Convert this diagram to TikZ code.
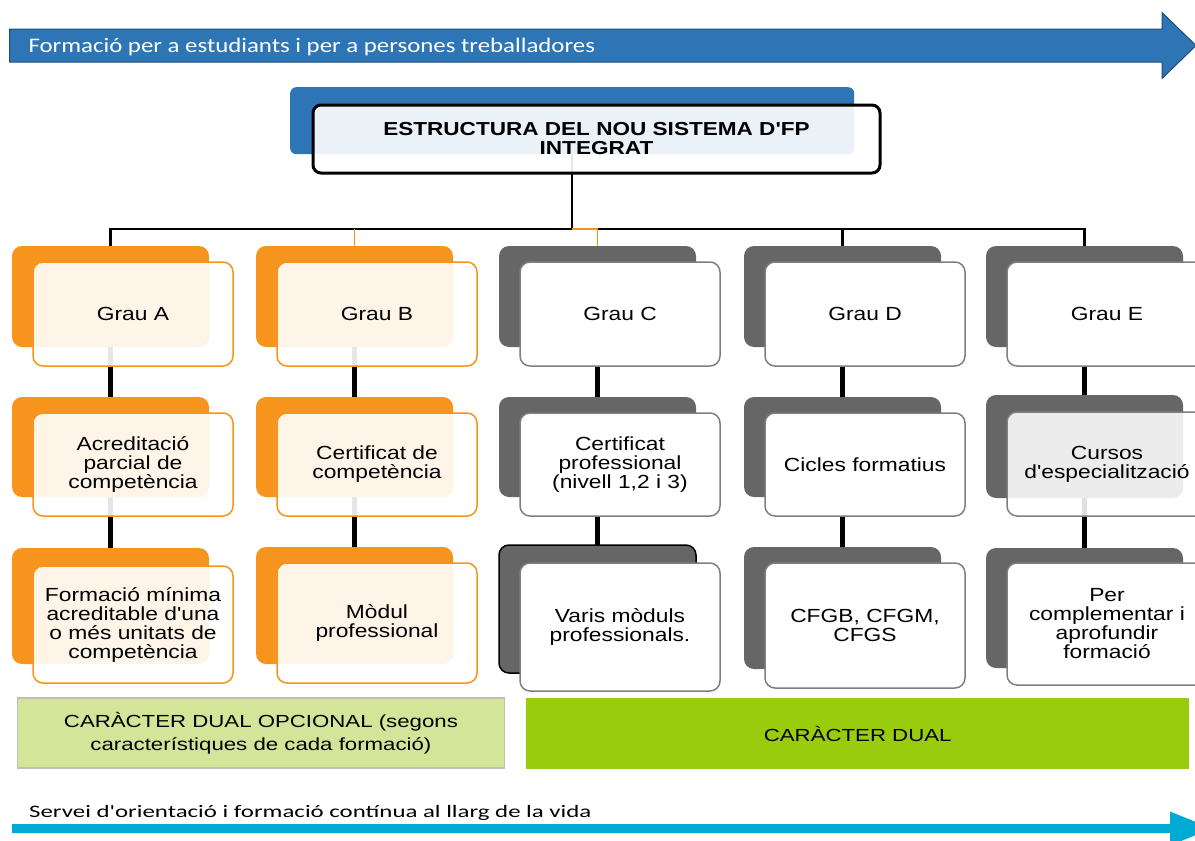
\documentclass[tikz,border=0pt]{standalone}
\usepackage{fontspec}
\setmainfont{Liberation Sans}
\newfontfamily\cardfont[FakeStretch=1.2]{Liberation Sans}
\newfontfamily\dualfont[FakeStretch=1.27]{Liberation Sans}
\newfontfamily\bandfont[FakeStretch=1.2]{Carlito}
\newfontfamily\bandnarrow[FakeStretch=1.42]{Carlito}

\definecolor{fpblue}{HTML}{2E75B6}
\definecolor{fpnavy}{HTML}{1F4E79}
\definecolor{fporange}{HTML}{F7941D}
\definecolor{fpgrey}{HTML}{666666}
\definecolor{fpedge}{HTML}{7F7F7F}
\definecolor{fppale}{HTML}{D3E598}
\definecolor{fpbord}{HTML}{BFBFBF}
\definecolor{fplime}{HTML}{9ACC0E}
\definecolor{fpcyan}{HTML}{00AAD3}

\pgfdeclarelayer{under}
\pgfsetlayers{under,main}

\tikzset{
  backbox/.style={anchor=north west, inner sep=0pt, outer sep=0pt,
    minimum width=197pt, rounded corners=10pt},
  orangeback/.style={backbox, fill=fporange},
  greyback/.style={backbox, fill=fpgrey},
  greybackedge/.style={backbox, fill=fpgrey, draw=black, line width=1.5pt},
  frontbox/.style={anchor=north west, inner sep=2pt, outer sep=0pt,
    minimum width=200pt, rounded corners=10pt, line width=1.5pt,
    align=center, text=black,
    font=\cardfont\fontsize{19}{19}\selectfont},
  orangefront/.style={frontbox, draw=fporange, fill=white,
    fill opacity=0.9, text opacity=1},
  greyfront/.style={frontbox, draw=fpedge, fill=white},
  greyfrontsoft/.style={frontbox, draw=fpedge, fill=white,
    fill opacity=0.88, text opacity=1},
  rowlink/.style={line width=5pt, black},
  trunk/.style={line width=2.5pt, black, line join=miter},
  stub/.style={line width=1.5pt, fporange, line join=miter},
}

% card: id, back style, front style, back x, back top, back bottom,
% front top, front bottom, text
\newcommand\fpcard[9]{%
  \node[#2, minimum height={#6pt-#5pt}] (b#1) at (#4,#5) {};
  \node[#3, minimum height={#8pt-#7pt}] (f#1) at ({#4+21},#7) {#9};
}

\begin{document}
\begin{tikzpicture}[x=1pt,y=-1pt]
\useasboundingbox (0,0) rectangle (1195,841);
\clip (0,0) rectangle (1195,841);

% top band arrow
\draw[fpnavy, fill=fpblue, line width=1pt]
  (9.5,29) -- (1162,29) -- (1162,12.5) -- (1196,45.5) -- (1162,78.5)
  -- (1162,62) -- (9.5,62) -- cycle;
\node[anchor=base west, inner sep=0pt, text=white,
  font=\bandfont\fontsize{20.7}{24}\selectfont] (bandtop) at (28.3,52.7)
  {Formació per a estudiants i per a persones treballadores};

% title
\node[anchor=north west, inner sep=0pt, fill=fpblue, rounded corners=6pt,
  minimum width=564pt, minimum height=67pt] (tback) at (290,87) {};
\node[anchor=north west, inner sep=0pt, draw=black, line width=3pt,
  fill=white, fill opacity=0.9, text opacity=1, rounded corners=8pt,
  minimum width=567pt, minimum height=68pt, align=center,
  font=\cardfont\bfseries\fontsize{18.8}{19}\selectfont]
  (title) at (311.5,103.5) {ESTRUCTURA DEL NOU SISTEMA D'FP\\INTEGRAT};

% column A
\fpcard{A1}{orangeback}{orangefront}{12}{246}{347}{262}{366}{Grau A}
\fpcard{A2}{orangeback}{orangefront}{12}{397}{497}{413}{516}{Acreditació\\parcial de\\competència}
\fpcard{A3}{orangeback}{orangefront}{12}{548}{664}{566}{683}{Formació mínima\\acreditable d'una\\o més unitats de\\competència}
% column B
\fpcard{B1}{orangeback}{orangefront}{256}{246}{347}{262}{366}{Grau B}
\fpcard{B2}{orangeback}{orangefront}{256}{397}{497}{413}{516}{Certificat de\\competència}
\fpcard{B3}{orangeback}{orangefront}{256}{547}{664}{563}{683}{Mòdul\\professional}
% column C
\fpcard{C1}{greyback}{greyfront}{499}{246}{347}{262}{366}{Grau C}
\fpcard{C2}{greyback}{greyfront}{499}{397}{497}{413}{516}{Certificat\\professional\\(nivell 1,2 i 3)}
\fpcard{C3}{greybackedge}{greyfront}{499}{545}{673}{563}{691}{Varis mòduls\\professionals.}
% column D
\fpcard{D1}{greyback}{greyfront}{744}{246}{347}{262}{366}{Grau D}
\fpcard{D2}{greyback}{greyfront}{744}{397}{497}{413}{516}{Cicles formatius}
\fpcard{D3}{greyback}{greyfront}{744}{547}{669}{563}{688}{CFGB, CFGM,\\CFGS}
% column E
\fpcard{E1}{greyback}{greyfront}{986}{246}{347}{262}{366}{Grau E}
\fpcard{E2}{greyback}{greyfrontsoft}{986}{395}{498}{412}{516}{Cursos\\d'especialització}
\fpcard{E3}{greyback}{greyfront}{986}{548}{668}{563}{685}{Per\\complementar i\\aprofundir\\formació}

% connectors, kept underneath the cards
\coordinate (bus) at (572,229);
\begin{pgfonlayer}{under}
  \draw[trunk] (tback.south) -- (tback.south |- bus);
  \draw[trunk] (bA1.north) -- (bA1.north |- bus) -- (bE1.north |- bus) -- (bE1.north);
  \draw[trunk] (bD1.north |- bus) -- (bD1.north);
  \draw[stub] (bB1.north |- bus) -- (bB1.north);
  \draw[stub] (tback.south |- bus) -- (bC1.north |- bus) -- (bC1.north);
  \foreach \c in {A,B,C,D,E}{
    \draw[rowlink] (b\c1.south) -- (b\c2.north);
    \draw[rowlink] (b\c2.south) -- (b\c3.north);
  }
\end{pgfonlayer}

% dual-training bars
\node[anchor=north west, inner sep=0pt, fill=fppale, draw=fpbord, line width=1.5pt,
  minimum width=487pt, minimum height=70pt, align=center,
  font=\dualfont\fontsize{17.5}{22.5}\selectfont]
  (dualopt) at (16.7,697.3) {CARÀCTER DUAL OPCIONAL (segons\\característiques de cada formació)};
\node[anchor=north west, inner sep=0pt, fill=fplime,
  minimum width=663pt, minimum height=71pt,
  font=\dualfont\fontsize{17.5}{22.5}\selectfont]
  (dual) at (526,698) {CARÀCTER DUAL};

% bottom band arrow
\fill[fpcyan] (12,824) -- (1170,824) -- (1170,811.5) -- (1212,828.5)
  -- (1170,845.5) -- (1170,833) -- (12,833) -- cycle;
\node[anchor=base west, inner sep=0pt,
  font=\bandnarrow\fontsize{17.5}{20}\selectfont] (bandbot) at (29,817.3)
  {Servei d'orientació i formació contínua al llarg de la vida};
\end{tikzpicture}
\end{document}
